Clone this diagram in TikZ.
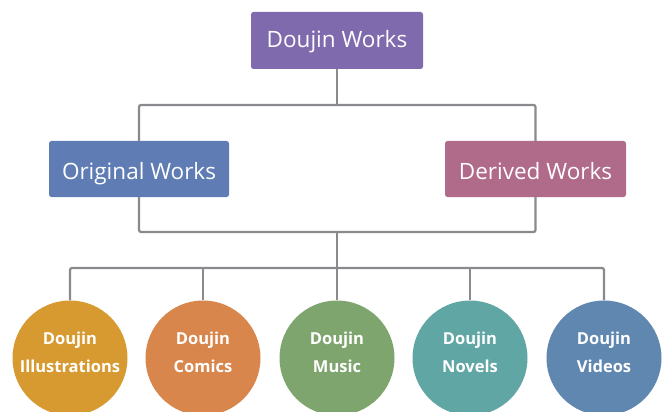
\documentclass[tikz,border=0pt]{standalone}
\usepackage{fontspec}
\setmainfont{Open Sans}
\definecolor{cTop}{HTML}{7F6AAE}
\definecolor{cOrig}{HTML}{5F7DB4}
\definecolor{cDer}{HTML}{B06A8A}
\definecolor{cIll}{HTML}{D69A30}
\definecolor{cCom}{HTML}{D8864B}
\definecolor{cMus}{HTML}{7FA56F}
\definecolor{cNov}{HTML}{5FA6A4}
\definecolor{cVid}{HTML}{5F87B0}
\definecolor{cLine}{HTML}{8A8A8E}
\begin{document}
\begin{tikzpicture}[x=1pt,y=-1pt,
  box/.style={rectangle,rounded corners=2.5pt,text=white,inner sep=0pt,
    font=\fontsize{22.5}{26}\selectfont},
  ball/.style={circle,minimum size=115pt,inner sep=0pt,text=white,align=center,
    font=\bfseries\fontsize{16.5}{28}\selectfont},
  lbl/.style={text=white,align=center,inner sep=0pt,
    font=\bfseries\fontsize{16.5}{28}\selectfont},
  conn/.style={draw=cLine,line width=2.2pt,rounded corners=2pt}]
\useasboundingbox (0,0) rectangle (665,412);
\clip (0,0) rectangle (665,412);
\node[box,fill=cTop,minimum width=172pt,minimum height=57pt,text height=15pt,text depth=1pt] (top) at (337,40.5) {Doujin Works};
\node[box,fill=cOrig,minimum width=180pt,minimum height=56pt,text height=21pt,text depth=0pt] (orig) at (139,169) {Original Works};
\node[box,fill=cDer,minimum width=181pt,minimum height=56pt,text height=21pt,text depth=0pt] (der) at (535.5,169) {Derived Works};
\node[ball,fill=cIll] (c1) at (70,358) {};
\node[ball,fill=cCom] (c2) at (203,358) {};
\node[ball,fill=cMus] (c3) at (337,358) {};
\node[ball,fill=cNov] (c4) at (470,358) {};
\node[ball,fill=cVid] (c5) at (604,358) {};
\node[lbl] (t1) at (70,352) {Doujin\\Illustrations};
\node[lbl] (t2) at (203,352) {Doujin\\Comics};
\node[lbl] (t3) at (337,352) {Doujin\\Music};
\node[lbl] (t4) at (470,352) {Doujin\\Novels};
\node[lbl] (t5) at (604,352) {Doujin\\Videos};
\coordinate (j1) at (337,105);
\coordinate (j2) at (337,232);
\coordinate (j3) at (337,268);
\draw[conn] (top.south) -- (j1);
\draw[conn] (orig.north) |- (j1) -| (der.north);
\draw[conn] (orig.south) |- (j2) -| (der.south);
\draw[conn] (j2) -- (j3);
\draw[conn] (c1.north) |- (j3) -| (c5.north);
\draw[conn] (c2.north) -- (c2.north |- j3);
\draw[conn] (c3.north) -- (j3);
\draw[conn] (c4.north) -- (c4.north |- j3);
\end{tikzpicture}
\end{document}
